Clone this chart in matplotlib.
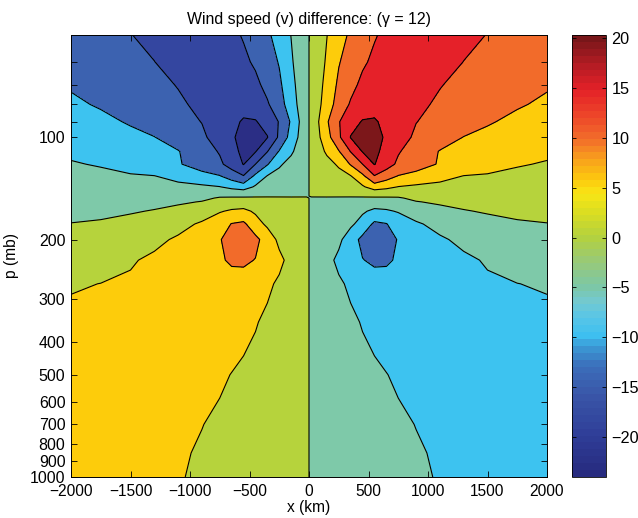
import matplotlib
matplotlib.use("Agg")
import matplotlib.pyplot as plt
from matplotlib.colors import LinearSegmentedColormap, Normalize
from matplotlib.cm import ScalarMappable
from matplotlib.ticker import NullLocator
import numpy as np

plt.rcParams['font.family'] = ['Liberation Sans', 'DejaVu Sans']

# =============================================================================
# DATA
# =============================================================================
# x grid of the eastern half (km); the western half is its mirror image
x_east = np.array([20, 150, 250, 350, 450, 550, 650, 750, 900, 1100, 1300, 1500, 1750, 2000])
# pressure levels (mb)
p_levels = np.array([50, 60, 70, 80, 90, 100, 110, 120, 130, 140, 145, 149, 151, 155, 165,
                     180, 200, 230, 270, 350, 500, 700, 850, 1000])
# wind speed difference v (m/s) on the eastern half, one row per pressure level
v_east = np.array([
    [0.65, 4.9, 8.1, 10.8, 12.75, 14.7, 15.8, 16.5, 17.0, 16.8, 16.0, 14.9, 13.8, 12.9],
    [0.75, 5.6, 9.7, 12.1, 14.4, 15.8, 16.8, 17.5, 17.8, 16.6, 14.95, 13.9, 12.7, 11.6],
    [0.9, 6.5, 10.9, 13.7, 16.0, 17.4, 18.3, 18.6, 17.8, 15.2, 13.9, 12.8, 11.5, 10.4],
    [1.0, 7.4, 12.1, 15.5, 17.8, 19.0, 19.2, 18.3, 16.0, 14.3, 13.1, 11.9, 10.4, 9.3],
    [1.1, 9.4, 14.7, 18.3, 20.3, 20.3, 19.3, 17.4, 15.1, 13.5, 11.9, 10.4, 9.0, 7.85],
    [1.0, 8.1, 14.1, 20.2, 21.5, 21.0, 19.6, 17.0, 14.2, 12.0, 9.9, 8.9, 7.8, 6.7],
    [0.75, 5.8, 9.7, 15.2, 20.3, 20.8, 18.9, 15.4, 12.7, 9.8, 8.6, 7.6, 6.6, 5.7],
    [0.45, 3.3, 5.7, 10.4, 15.0, 20.2, 17.1, 14.1, 12.0, 9.6, 8.4, 7.1, 5.3, 4.7],
    [0.3, 2.1, 3.4, 4.8, 9.0, 14.8, 12.3, 9.8, 8.6, 6.7, 4.9, 4.5, 4.1, 3.8],
    [0.15, 1.2, 2.1, 3.0, 4.3, 7.5, 6.2, 4.85, 4.1, 3.6, 3.3, 3.1, 3.0, 2.95],
    [0.06, 0.5, 0.9, 1.4, 2.0, 3.0, 2.8, 2.5, 2.5, 2.6, 2.5, 2.5, 2.5, 2.5],
    [0.012, 0.1, 0.18, 0.28, 0.4, 0.6, 0.56, 0.5, 1.42, 1.8, 1.86, 1.98, 2.1, 2.2],
    [-0.016, -0.12, -0.24, -0.4, -0.5, -0.6, -0.56, -0.4, 0.88, 1.4, 1.54, 1.72, 1.9, 2.05],
    [-0.08, -0.6, -1.2, -2.0, -2.5, -3.0, -2.8, -2.0, -0.2, 0.6, 0.9, 1.2, 1.5, 1.75],
    [-0.16, -1.3, -2.3, -3.4, -4.5, -5.8, -5.5, -4.7, -2.8, -1.3, -0.2, 0.3, 0.75, 1.0],
    [-0.24, -1.8, -3.0, -4.3, -6.5, -11.0, -10.2, -7.5, -5.6, -3.6, -2.2, -1.1, -0.4, -0.1],
    [-0.32, -2.5, -4.1, -7.3, -11.5, -13.0, -12.0, -9.7, -7.7, -5.6, -4.0, -2.7, -1.8, -1.1],
    [-0.4, -3.6, -6.0, -8.0, -9.8, -11.0, -10.8, -9.3, -8.0, -6.8, -5.8, -4.6, -3.3, -2.6],
    [-0.4, -2.6, -4.3, -5.8, -6.8, -7.4, -7.6, -7.6, -7.3, -6.8, -6.2, -5.6, -5.05, -4.6],
    [-0.25, -1.8, -2.9, -4.1, -5.3, -6.2, -6.8, -7.1, -7.2, -7.1, -6.9, -6.7, -6.4, -6.2],
    [-0.16, -1.2, -2.0, -2.6, -3.4, -4.2, -4.9, -5.6, -6.3, -6.8, -6.9, -6.9, -6.9, -6.9],
    [-0.12, -0.9, -1.5, -2.0, -2.6, -3.1, -3.6, -4.2, -5.1, -6.0, -6.5, -6.7, -6.8, -6.8],
    [-0.1, -0.7, -1.2, -1.7, -2.2, -2.7, -3.2, -3.7, -4.5, -5.6, -6.2, -6.5, -6.6, -6.6],
    [-0.08, -0.6, -1.0, -1.5, -2.0, -2.5, -3.0, -3.5, -4.3, -5.3, -5.8, -6.0, -6.1, -6.1],
])

contour_levels = [-30, -20, -15, -10, -5, 0, 5, 10, 15, 20, 30]
fill_colors = ['#2b2e85', '#3446a0', '#3c62b0', '#3dc3f0', '#7ec9a9',
               '#b6d33c', '#fdcc0b', '#f26b2a', '#e52129', '#7c171a']
cbar_ticks = [-20, -15, -10, -5, 0, 5, 10, 15, 20]
x_ticks = [-2000, -1500, -1000, -500, 0, 500, 1000, 1500, 2000]
y_ticks = [60, 70, 80, 90, 100, 200, 300, 400, 500, 600, 700, 800, 900, 1000]
y_ticklabels = ['', '', '', '', '100', '200', '300', '400', '500', '600',
                '700', '800', '900', '1000']

# field is antisymmetric about x = 0 (west half = minus mirrored east half)
x = np.concatenate([-x_east[::-1], x_east])
v = np.hstack([-v_east[:, ::-1], v_east])

# colour scale used by the colorbar (jet-like)
cmin, cmax = -24.0, 20.3
cmap_anchors = [(-24, '#272b7f'), (-20, '#2f3e98'), (-16, '#3a56a8'), (-13, '#3b6fbb'),
                (-11, '#3b9ad6'), (-10, '#3dbff0'), (-8, '#5ac6e6'), (-6.5, '#74c9cf'),
                (-5, '#7cc7a8'), (-2.5, '#97c97a'), (0, '#b3d13f'), (2.5, '#d9dd22'),
                (4.5, '#f8e616'), (6, '#fcc80e'), (8, '#f8a01d'), (10, '#f26e2a'),
                (12.5, '#ed4529'), (15, '#e42128'), (17.5, '#b61c24'), (20.3, '#781619')]
cmap = LinearSegmentedColormap.from_list(
    'wind', [((val - cmin) / (cmax - cmin), col) for val, col in cmap_anchors], N=64)

# =============================================================================
# PLOT
# =============================================================================
W, H = 638, 518
fig = plt.figure(figsize=(W / 100, H / 100), dpi=100)
ax = fig.add_axes([71 / W, 41 / H, 476 / W, 442 / H])
cax = fig.add_axes([572 / W, 41 / H, 34 / W, 442 / H])

ax.contourf(x, p_levels, v, levels=contour_levels, colors=fill_colors)
ax.contour(x, p_levels, v, levels=contour_levels[1:-1], colors='k',
           linewidths=0.8, linestyles='solid')

ax.set_yscale('log')
ax.set_ylim(1000, 50)
ax.set_xlim(-2000, 2000)
ax.set_yticks(y_ticks)
ax.set_yticklabels(y_ticklabels)
ax.yaxis.set_minor_locator(NullLocator())
ax.set_xticks(x_ticks)
ax.tick_params(direction='in', top=True, right=True, length=4, width=0.6)
ax.tick_params(axis='y', labelsize=11.5, pad=4)
ax.tick_params(axis='x', labelsize=11.2, pad=5)
for s in ax.spines.values():
    s.set_linewidth(0.7)

ax.set_title('Wind speed (v) difference: (\u03b3 = 12)', fontsize=11.4, pad=8)
ax.set_xlabel('x (km)', fontsize=11.2, labelpad=1)
ax.set_ylabel('p (mb)', fontsize=11.2, labelpad=8)

sm = ScalarMappable(norm=Normalize(cmin, cmax), cmap=cmap)
cb = fig.colorbar(sm, cax=cax, ticks=cbar_ticks)
cb.outline.set_linewidth(0.6)
cax.tick_params(direction='in', left=True, right=True, length=3, width=0.6,
                labelsize=11.7, pad=4)

fig.savefig('out.png', dpi=100)
